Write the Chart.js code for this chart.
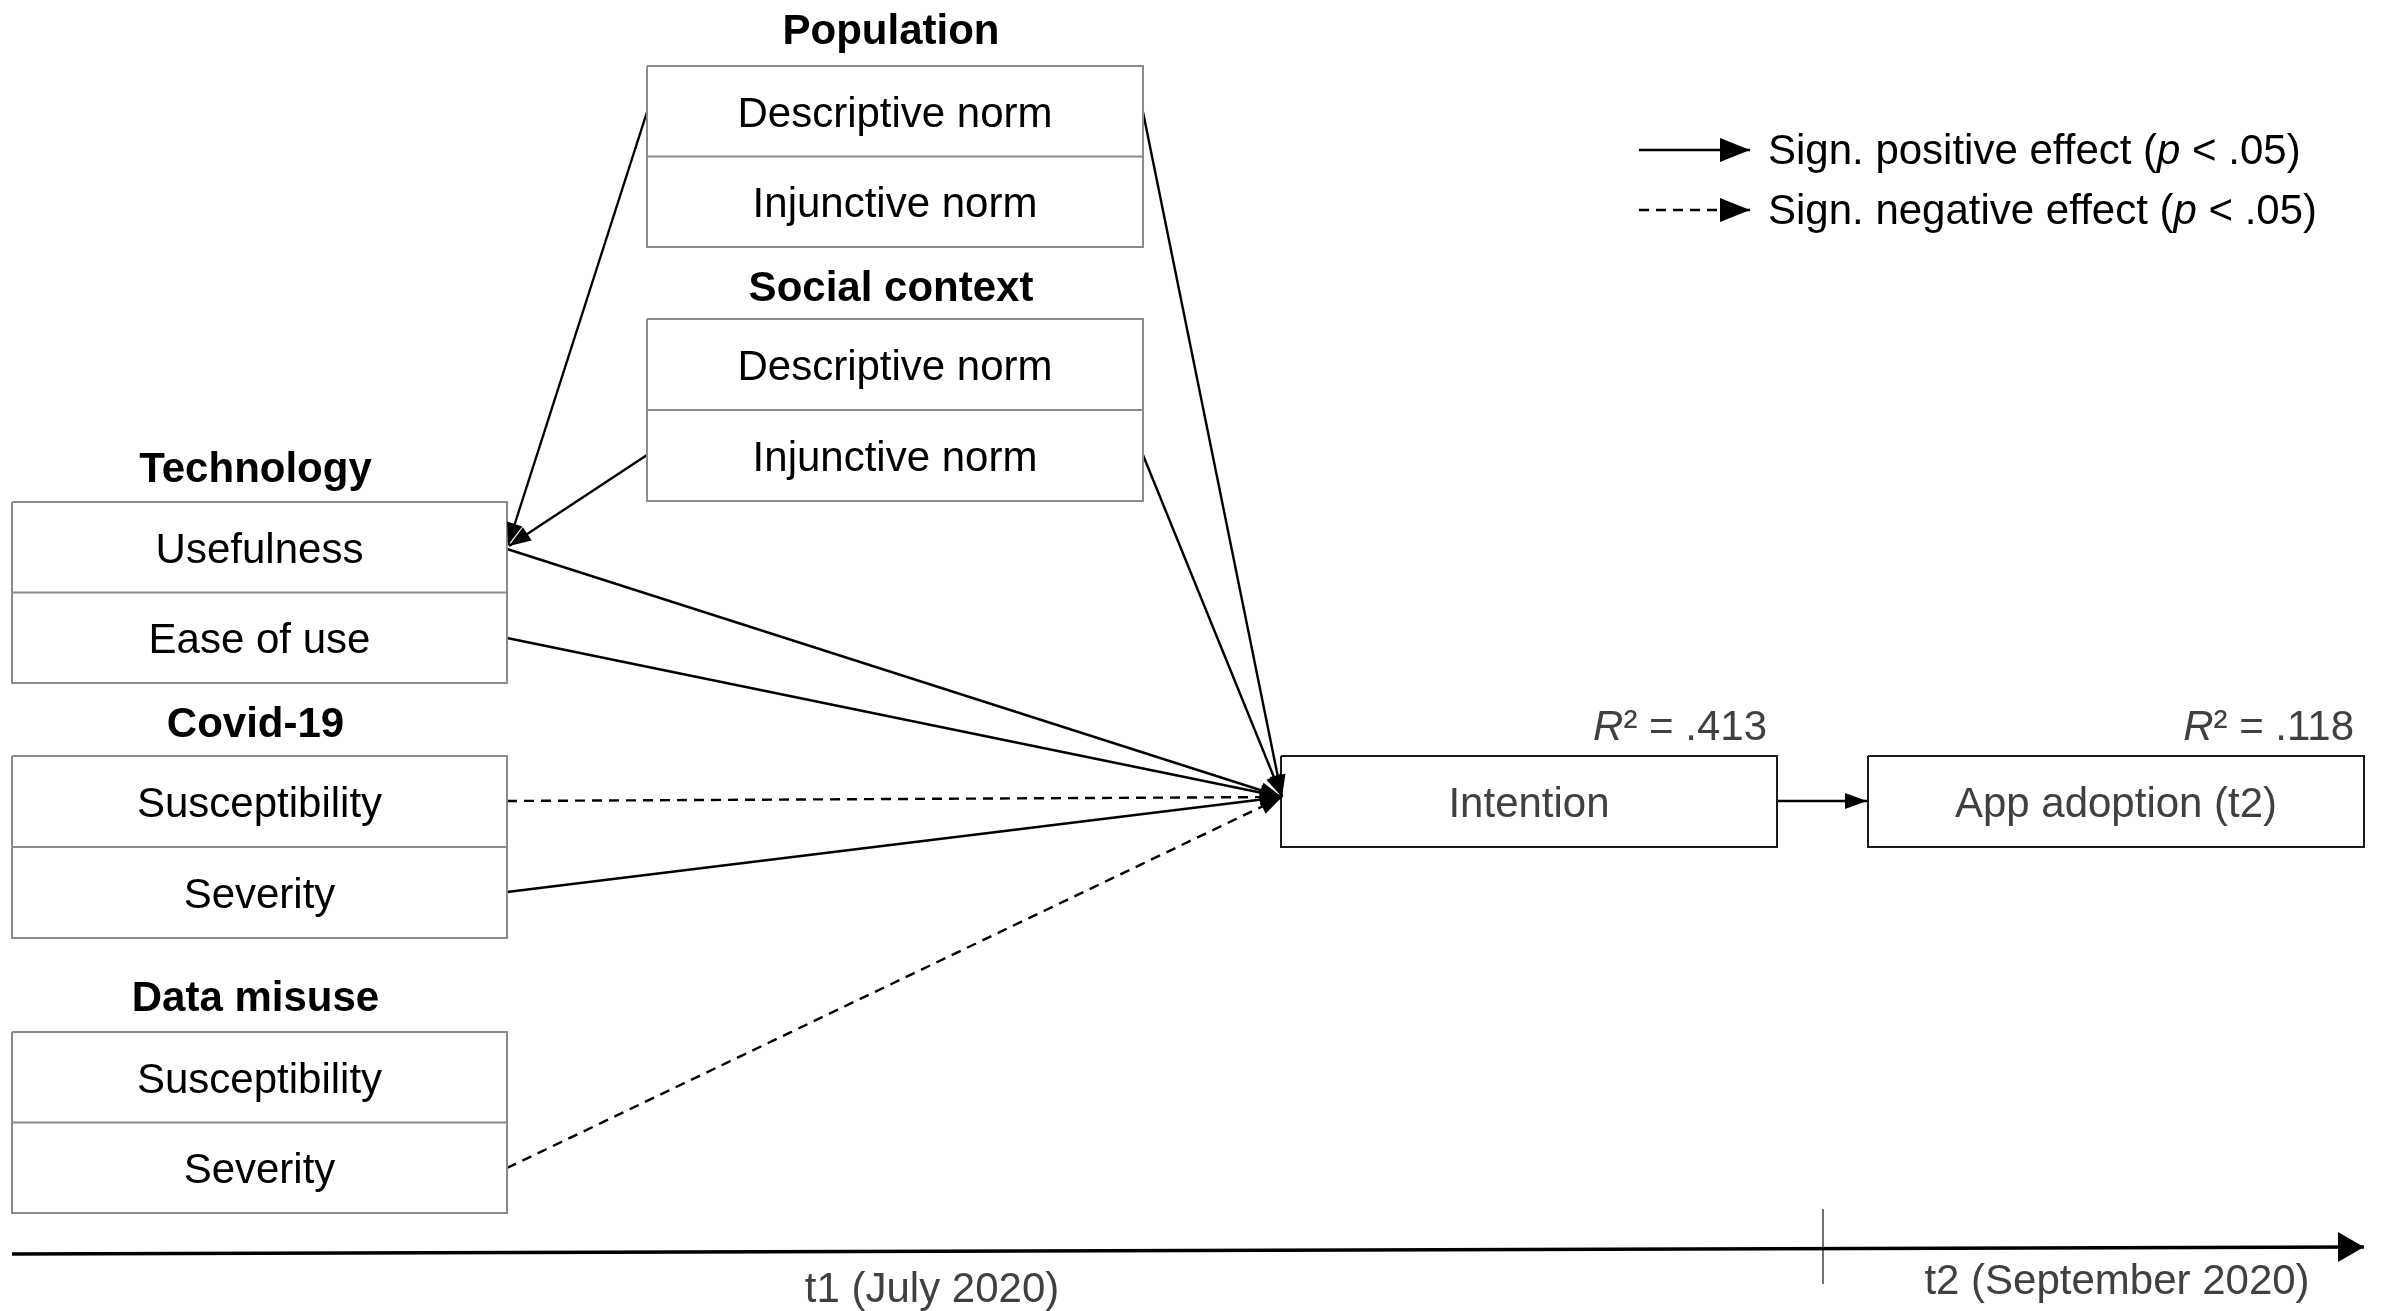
<!DOCTYPE html>
<html>
<head>
<meta charset="utf-8">
<script src="https://cdn.jsdelivr.net/npm/chart.js@4.4.1/dist/chart.umd.min.js"></script>
<style>
  html, body { margin: 0; padding: 0; background: #fff; }
  #wrap { width: 2381px; height: 1311px; position: relative; }
</style>
</head>
<body>
<div id="wrap"><canvas id="myChart"></canvas></div>
<script>
// ---- diagram data (x/y in figure units, y grows downward) ----
const groupLabels = ['Population', 'Social context', 'Technology', 'Covid-19', 'Data misuse'];
const groupLabelY = [31, 288, 469, 724, 998];
const groupBoxes = [
  [647, 66, 1143, 247],
  [647, 319, 1143, 501],
  [12, 502, 507, 683],
  [12, 756, 507, 938],
  [12, 1032, 507, 1213]
];
const rowLabels = [
  ['Descriptive norm', 'Injunctive norm'],
  ['Descriptive norm', 'Injunctive norm'],
  ['Usefulness', 'Ease of use'],
  ['Susceptibility', 'Severity'],
  ['Susceptibility', 'Severity']
];

const outcomeLabels = ['Intention', 'App adoption (t2)'];
const outcomeBoxes = [
  [1281, 756, 1777, 847],
  [1868, 756, 2364, 847]
];
const rSquared = ['.413', '.118'];

// paths: start point, end point, sign of effect
const pathFrom = [[1143, 112], [1143, 455], [507, 549], [507, 638], [507, 801], [507, 892], [507, 1168], [647, 112], [647, 455], [1777, 801]];
const pathTo   = [[1282, 797], [1282, 797], [1282, 797], [1282, 797], [1282, 797], [1282, 797], [1282, 797], [508, 545], [509, 546], [1867, 801]];
const pathSign = ['pos', 'pos', 'pos', 'pos', 'neg', 'pos', 'neg', 'pos', 'pos', 'pos'];

const legendLabels = ['Sign. positive effect', 'Sign. negative effect'];
const legendSign = ['pos', 'neg'];
const legendY = [150, 210];
const legendX = [1639, 1750];

const timeLabels = ['t1 (July 2020)', 't2 (September 2020)'];
const timeLabelX = [932, 2117];
const timeLabelY = [1290, 1282];
const timeLine = [[12, 1254], [2364, 1247]];
const timeSplit = [[1823, 1209], [1823, 1284]];

const FONT = '"Liberation Sans", Arial, sans-serif';
const DASH = [10, 7];

// ---- build datasets ----
const datasets = [];

function pt(p) { return { x: p[0], y: p[1] }; }

function boxOutline(b) {
  return [pt([b[0], b[1]]), pt([b[2], b[1]]), pt([b[2], b[3]]), pt([b[0], b[3]]), pt([b[0], b[1]])];
}

groupBoxes.forEach(b => {
  datasets.push({ data: boxOutline(b), borderColor: '#8a8a8a', borderWidth: 2 });
  const mid = (b[1] + b[3]) / 2;
  datasets.push({ data: [pt([b[0], mid]), pt([b[2], mid])], borderColor: '#8a8a8a', borderWidth: 2 });
});

outcomeBoxes.forEach(b => {
  datasets.push({ data: boxOutline(b), borderColor: '#1a1a1a', borderWidth: 2 });
});

pathFrom.forEach((from, i) => {
  datasets.push({
    data: [pt(from), pt(pathTo[i])],
    borderColor: '#000',
    borderWidth: 2.4,
    borderDash: pathSign[i] === 'neg' ? DASH : [],
    arrow: { len: 22, half: 8 }
  });
});

legendY.forEach((y, i) => {
  datasets.push({
    data: [pt([legendX[0], y]), pt([legendX[1], y])],
    borderColor: '#000',
    borderWidth: 2.4,
    borderDash: legendSign[i] === 'neg' ? DASH : [],
    arrow: { len: 30, half: 12 }
  });
});

datasets.push({ data: [pt(timeLine[0]), pt(timeLine[1])], borderColor: '#000', borderWidth: 3.5, arrow: { len: 26, half: 15 } });
datasets.push({ data: [pt(timeSplit[0]), pt(timeSplit[1])], borderColor: '#444', borderWidth: 1.5 });

datasets.forEach(d => {
  d.showLine = true;
  d.pointRadius = 0;
  d.fill = false;
  d.tension = 0;
  d.borderCapStyle = 'butt';
  d.clip = false;
});

// ---- plugins: arrowheads and texts ----
const arrowPlugin = {
  id: 'arrowheads',
  afterDatasetsDraw(chart) {
    const ctx = chart.ctx;
    chart.data.datasets.forEach((ds, i) => {
      if (!ds.arrow) return;
      const pts = chart.getDatasetMeta(i).data;
      const a = pts[pts.length - 2], b = pts[pts.length - 1];
      const ang = Math.atan2(b.y - a.y, b.x - a.x);
      const { len, half } = ds.arrow;
      ctx.save();
      ctx.translate(b.x, b.y);
      ctx.rotate(ang);
      ctx.beginPath();
      ctx.moveTo(0, 0);
      ctx.lineTo(-len, -half);
      ctx.lineTo(-len, half);
      ctx.closePath();
      ctx.fillStyle = ds.borderColor;
      ctx.fill();
      ctx.restore();
    });
  }
};

// draw a run of [text, italic] pieces; align 'left' | 'center' | 'right'
function drawRuns(ctx, runs, x, y, size, color, align) {
  const fonts = runs.map(r => (r[1] ? 'italic ' : '') + size + 'px ' + FONT);
  const widths = runs.map((r, k) => { ctx.font = fonts[k]; return ctx.measureText(r[0]).width; });
  const total = widths.reduce((s, w) => s + w, 0);
  let cx = align === 'right' ? x - total : align === 'center' ? x - total / 2 : x;
  ctx.fillStyle = color;
  ctx.textAlign = 'left';
  ctx.textBaseline = 'middle';
  runs.forEach((r, k) => {
    ctx.font = fonts[k];
    ctx.fillText(r[0], cx, y);
    cx += widths[k];
  });
}

const textPlugin = {
  id: 'texts',
  afterDraw(chart) {
    const ctx = chart.ctx;
    const sx = v => chart.scales.x.getPixelForValue(v);
    const sy = v => chart.scales.y.getPixelForValue(v);
    ctx.save();
    ctx.textAlign = 'center';
    ctx.textBaseline = 'middle';

    groupBoxes.forEach((b, i) => {
      const cx = sx((b[0] + b[2]) / 2);
      ctx.fillStyle = '#000';
      ctx.font = 'bold 42px ' + FONT;
      ctx.fillText(groupLabels[i], cx - 4, sy(groupLabelY[i] + 1));
      ctx.font = '42px ' + FONT;
      const mid = (b[1] + b[3]) / 2;
      ctx.fillText(rowLabels[i][0], cx, sy((b[1] + mid) / 2 + 4));
      ctx.fillText(rowLabels[i][1], cx, sy((mid + b[3]) / 2 + 4));
    });

    outcomeBoxes.forEach((b, i) => {
      ctx.fillStyle = '#404040';
      ctx.font = '42px ' + FONT;
      ctx.textAlign = 'center';
      ctx.fillText(outcomeLabels[i], sx((b[0] + b[2]) / 2), sy((b[1] + b[3]) / 2 + 4));
      drawRuns(ctx, [['R', true], ['\u00b2 = ' + rSquared[i], false]], sx(b[2] - 10), sy(b[1] - 28), 42, '#404040', 'right');
    });

    legendLabels.forEach((t, i) => {
      drawRuns(ctx, [[t + ' (', false], ['p', true], [' < .05)', false]], sx(legendX[1] + 18), sy(legendY[i] + 2), 42, '#000', 'left');
    });

    timeLabels.forEach((t, i) => {
      ctx.fillStyle = '#404040';
      ctx.font = '42px ' + FONT;
      ctx.textAlign = 'center';
      ctx.fillText(t, sx(timeLabelX[i]), sy(timeLabelY[i]));
    });
    ctx.restore();
  }
};

const ctx = document.getElementById('myChart').getContext('2d');
new Chart(ctx, {
  type: 'scatter',
  data: { datasets: datasets },
  options: {
    responsive: true,
    maintainAspectRatio: false,
    animation: false,
    layout: { padding: 0 },
    scales: {
      x: { type: 'linear', min: 0, max: 2381, display: false },
      y: { type: 'linear', min: 0, max: 1311, reverse: true, display: false }
    },
    plugins: {
      legend: { display: false },
      tooltip: { enabled: false }
    }
  },
  plugins: [arrowPlugin, textPlugin]
});
</script>
</body>
</html>
